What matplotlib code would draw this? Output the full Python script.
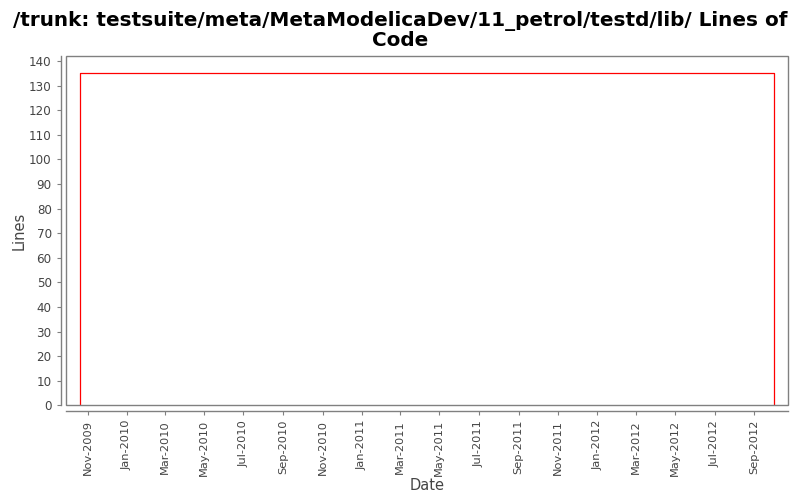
import matplotlib
matplotlib.use("Agg")
import matplotlib.pyplot as plt
import matplotlib.dates as mdates
from matplotlib.patches import Rectangle
import datetime as dt

# Data
dates = ["2009-10-21", "2012-10-02"]
lines_of_code = [135, 0]
yticks = list(range(0, 141, 10))

d = [dt.datetime.strptime(s, "%Y-%m-%d") for s in dates]
xs = [d[0]] + d
ys = [0] + lines_of_code

fig = plt.figure(figsize=(8, 5), dpi=100)
ax = fig.add_axes([0.0828, 0.1894, 0.9022, 0.698])

ax.step(xs, ys, where="post", color="#ff0000", lw=0.9)

ax.set_xlim(dt.datetime(2009, 9, 29), dt.datetime(2012, 10, 23))
ax.set_ylim(0, 141.9)
ax.set_yticks(yticks)

ax.xaxis.set_major_locator(mdates.MonthLocator(bymonth=[1, 3, 5, 7, 9, 11]))
ax.xaxis.set_major_formatter(mdates.DateFormatter("%b-%Y"))

for s in ["top", "right"]:
    ax.spines[s].set_visible(False)
for s in ["left", "bottom"]:
    ax.spines[s].set_position(("outward", 4))
    ax.spines[s].set_color("#808080")
    ax.spines[s].set_linewidth(1.0)

ax.add_patch(Rectangle((0, 0), 1, 1, transform=ax.transAxes, fill=False,
                       edgecolor="#808080", lw=1.0, clip_on=False, zorder=5))

ax.tick_params(axis="both", colors="#808080", labelcolor="#444444",
               labelsize=8.6, length=3, width=0.8)
ax.tick_params(axis="x", labelrotation=90, labelsize=8.2)

ax.set_ylabel("Lines", fontsize=10.5, color="#444444", labelpad=2)
ax.set_xlabel("Date", fontsize=10.5, color="#444444", labelpad=1)

fig.suptitle("/trunk: testsuite/meta/MetaModelicaDev/11_petrol/testd/lib/ Lines of\nCode",
             fontsize=14.4, fontweight="bold", y=0.978, linespacing=1.0)

fig.savefig("out.png", dpi=100)
